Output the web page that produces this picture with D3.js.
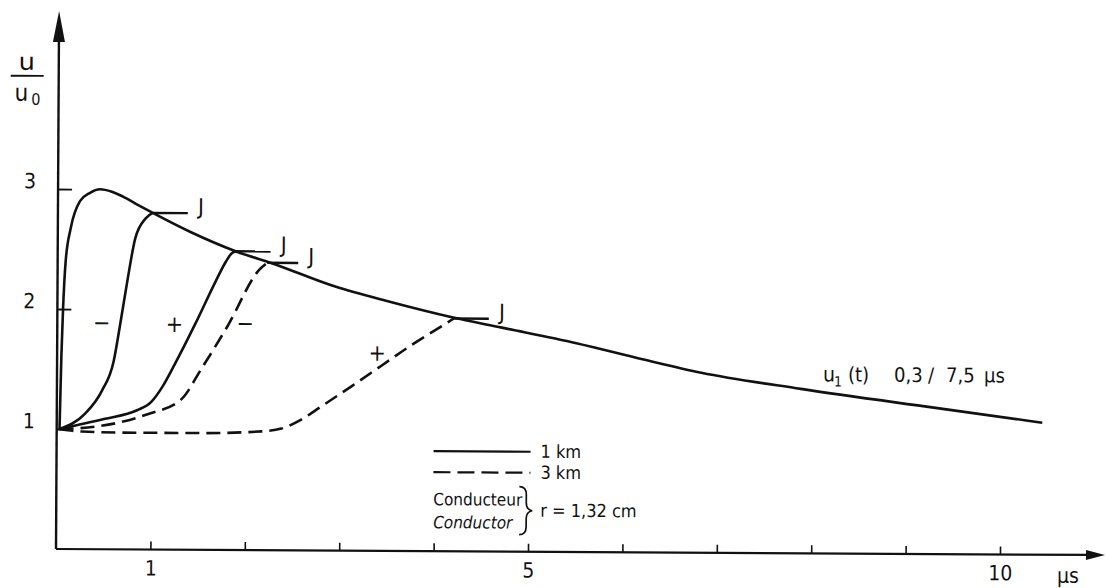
<!DOCTYPE html>
<html>
<head>
<meta charset="utf-8">
<script src="https://cdn.jsdelivr.net/npm/d3@7"></script>
<style>
  html, body { margin: 0; padding: 0; background: #fff; }
  svg { display: block; }
  text { font-family: "DejaVu Sans Condensed", "DejaVu Sans", sans-serif; fill: #111; }
</style>
</head>
<body>
<svg id="chart" width="1107" height="588"></svg>
<script>
// Overvoltage u/u0 versus time t (µs)
// Incident wave u1(t), 0,3/7,5 µs
const mainWave = [[0.03,1.0],[0.045,1.6],[0.06,2.0],[0.085,2.4],[0.138,2.68],[0.233,2.9],[0.339,2.97],
  [0.444,3.0],[0.57,2.98],[0.688,2.94],[0.85,2.87],[1.005,2.805],[1.4,2.65],[1.884,2.49],[2.275,2.39],
  [2.942,2.2],[3.5,2.08],[4.18,1.95],[4.71,1.866],[5.5,1.74],[6.2,1.61],[6.825,1.5],[7.88,1.37],
  [9.29,1.22],[10.44,1.1]];
// Fronts for a 1 km line (solid)
const front1kmA = [[0.03,1.0],[0.3,1.13],[0.476,1.32],[0.6,1.57],[0.66,1.845],[0.74,2.24],[0.82,2.59],
  [0.93,2.76],[1.005,2.805]];
const front1kmB = [[0.03,1.0],[0.5,1.085],[0.85,1.16],[1.0,1.23],[1.12,1.36],[1.25,1.55],[1.46,1.88],
  [1.67,2.23],[1.78,2.4],[1.84,2.47],[1.884,2.49]];
// Fronts for a 3 km line (dashed)
const front3kmA = [[0.03,1.0],[0.4,1.02],[0.97,1.13],[1.32,1.255],[1.53,1.51],[1.8,1.86],[2.14,2.34],
  [2.22,2.395]];
const front3kmB = [[0.03,1.0],[0.265,0.98],[0.69,0.973],[1.53,0.973],[2.17,0.99],[2.38,1.014],[2.59,1.09],
  [2.8,1.2],[3.12,1.37],[3.44,1.545],[3.76,1.72],[4.0,1.84],[4.2,1.94]];

// Polarity signs between the fronts
const signs = [["−",0.47,1.89],["+",1.24,1.88],["−",1.99,1.89],["+",3.39,1.65]];

const xTicks = [1,2,3,4,5,6,7,8,9,10];
const xTickLabels = [1,5,10];
const yTicks = [1,2,3];
const legendLabels = ["1 km","3 km"];
const conductorLabels = ["Conducteur","Conductor"];
const radiusLabel = "r = 1,32 cm";
const unitLabel = "µs";
// pieces of the wave label: text, x offset, baseline shift, size
const waveLabelParts = [["u",0,0,21],["1",11,5,14],["(t)",25,0,20],["0,3",71,0,20],["/",105,0,20],["7,5",123,0,20],["µs",161,0,20]];

const svg = d3.select("#chart");
const x = d3.scaleLinear().domain([0,10]).range([56,1000]);
const y = d3.scaleLinear().domain([0,3]).range([549,189]);

// whole drawing sits slightly turned
const g = svg.append("g").attr("transform", `rotate(0.33, ${x(0)}, ${y(0)})`);

const ink = "#111";

// ---- axes ----
const yAxis = d3.axisLeft(y).tickValues(yTicks).tickSize(-14).tickPadding(0).tickFormat(d3.format("d"));
const ya = g.append("g").attr("transform", `translate(${x(0)},0)`).call(yAxis);
ya.select(".domain").remove();
ya.selectAll(".tick line").attr("stroke", ink).attr("stroke-width", 1.8);
ya.selectAll(".tick text").attr("x", -28).attr("dy", null).attr("y", -1)
  .attr("text-anchor", "middle").style("font-size", "21px").attr("fill", ink);

const xAxis = d3.axisBottom(x).tickValues(xTicks).tickSize(-8).tickPadding(11)
  .tickFormat(d => xTickLabels.includes(d) ? d : "");
const xa = g.append("g").attr("transform", `translate(0,${y(0)})`).call(xAxis);
xa.select(".domain").remove();
xa.selectAll(".tick line").attr("stroke", ink).attr("stroke-width", 1.6);
xa.selectAll(".tick text").style("font-size", "21px").attr("fill", ink);

// axis lines with arrows
g.append("line").attr("x1", x(0)).attr("y1", y(0)).attr("x2", x(0)).attr("y2", 38)
  .attr("stroke", ink).attr("stroke-width", 2.4);
g.append("path").attr("d", `M${x(0)},11 L${x(0)-6},42 L${x(0)+6},42 Z`).attr("fill", ink);
g.append("line").attr("x1", x(0)).attr("y1", y(0)).attr("x2", 1090).attr("y2", y(0))
  .attr("stroke", ink).attr("stroke-width", 2.2);
g.append("path").attr("d", `M1105,${y(0)} L1086,${y(0)-5} L1086,${y(0)+5} Z`).attr("fill", ink);

g.append("text").attr("x", 1068).attr("y", y(0) + 28).attr("text-anchor", "middle")
  .style("font-size", "21px").text(unitLabel);

// axis title u / u0
g.append("text").attr("x", 24).attr("y", 70).attr("text-anchor", "middle").style("font-size", "24px")
  .attr("transform", "translate(24,0) scale(1.2,1) translate(-24,0)").text("u");
g.append("line").attr("x1", 8).attr("x2", 41).attr("y1", 76).attr("y2", 76).attr("stroke", ink).attr("stroke-width", 1.8);
const u0 = g.append("text").attr("x", 12).attr("y", 101).style("font-size", "24px");
u0.append("tspan").text("u");
u0.append("tspan").attr("dy", 4).style("font-size", "16px").attr("dx", 3).text("0");

// ---- curves ----
const line = d3.line().x(d => x(d[0])).y(d => y(d[1])).curve(d3.curveMonotoneX);
const curves = [
  {data: mainWave, dash: null},
  {data: front1kmA, dash: null},
  {data: front1kmB, dash: null},
  {data: front3kmA, dash: "14,7"},
  {data: front3kmB, dash: "14,7"}
];
g.selectAll("path.curve").data(curves).join("path").attr("class", "curve")
  .attr("d", d => line(d.data)).attr("fill", "none").attr("stroke", ink)
  .attr("stroke-width", 2.6).attr("stroke-linejoin", "round")
  .attr("stroke-dasharray", d => d.dash);

// junction marks "J" where each front meets the incident wave
const joins = [front1kmA, front1kmB, front3kmA, front3kmB].map(c => c[c.length - 1]);
const jm = g.selectAll("g.join").data(joins).join("g").attr("class", "join")
  .attr("transform", d => `translate(${x(d[0])},${y(d[1])})`);
jm.append("line").attr("x1", 0).attr("x2", (d, i) => i === 2 ? 31 : 35).attr("y1", 0).attr("y2", 0)
  .attr("stroke", ink).attr("stroke-width", 2.4);
jm.append("text").attr("x", (d, i) => (i === 2 ? 31 : 35) + 13).attr("y", 1)
  .attr("text-anchor", "middle").style("font-size", "22px").text("J");

// polarity signs
g.selectAll("text.sign").data(signs).join("text").attr("class", "sign")
  .attr("x", d => x(d[1])).attr("y", d => y(d[2]) + 8).attr("text-anchor", "middle")
  .style("font-size", "23px").text(d => d[0]);

// wave label
g.append("g").attr("transform", "translate(822,377)").selectAll("text").data(waveLabelParts).join("text")
  .attr("x", d => d[1]).attr("y", d => d[2]).style("font-size", d => d[3] + "px").text(d => d[0]);

// ---- legend ----
const lg = g.append("g");
lg.selectAll("line.key").data(legendLabels).join("line").attr("class", "key")
  .attr("x1", 433).attr("x2", 530).attr("y1", (d, i) => 449 + i * 21).attr("y2", (d, i) => 449 + i * 21)
  .attr("stroke", ink).attr("stroke-width", 2.2)
  .attr("stroke-dasharray", (d, i) => i === 1 ? "17,7" : null);
lg.selectAll("text.key").data(legendLabels).join("text").attr("class", "key")
  .attr("x", 540).attr("y", (d, i) => 455 + i * 21).style("font-size", "18px").text(d => d);
lg.selectAll("text.cond").data(conductorLabels).join("text").attr("class", "cond")
  .attr("x", 433).attr("y", (d, i) => 503 + i * 23).style("font-size", "17px")
  .style("font-style", (d, i) => i === 1 ? "italic" : "normal").text(d => d);
lg.append("path")
  .attr("d", "M519,484 Q526,484 526,492 L526,500 Q526,507 532,508 Q526,509 526,516 L526,524 Q526,532 519,532")
  .attr("fill", "none").attr("stroke", ink).attr("stroke-width", 1.7);
lg.append("text").attr("x", 540).attr("y", 514).style("font-size", "18px").text(radiusLabel);
</script>
</body>
</html>
